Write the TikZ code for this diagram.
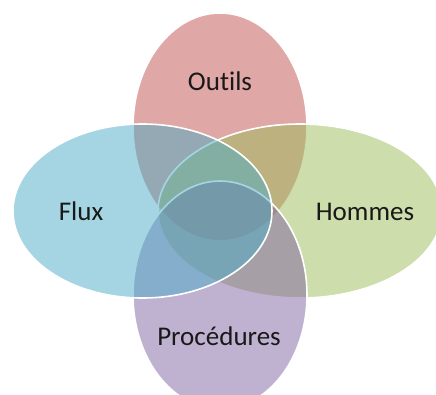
\documentclass[tikz,border=0pt]{standalone}
\usepackage{fontspec}
\setmainfont{Carlito}[Ligatures=NoCommon]
\definecolor{cred}{HTML}{C0504D}
\definecolor{cgreen}{HTML}{9BBB59}
\definecolor{cpurple}{HTML}{8064A2}
\definecolor{cblue}{HTML}{4BACC6}
\begin{document}
\begin{tikzpicture}[x=1pt,y=-1pt,
  petal/.style={fill opacity=0.5, draw=white, draw opacity=1, line width=1.6pt},
  lbl/.style={text=black!90, font=\fontsize{27}{30}\selectfont, anchor=base, inner sep=0pt}]
\useasboundingbox (0,0) rectangle (436,394);
\clip (0,0) rectangle (436,394);
\path[petal, fill=cred] (220,127) ellipse [x radius=87, y radius=114];
\path[petal, fill=cgreen] (300,211) ellipse [x radius=142, y radius=87];
\path[petal, fill=cpurple] (220,295) ellipse [x radius=87, y radius=114];
\path[petal, fill=cblue] (142.5,211) ellipse [x radius=129.5, y radius=87];
\node[lbl] (outils) at (220,90) {Outils};
\node[lbl] (hommes) at (365,220) {Hommes};
\node[lbl] (procedures) at (219,345) {Procédures};
\node[lbl] (flux) at (81,220) {Flux};
\end{tikzpicture}
\end{document}
